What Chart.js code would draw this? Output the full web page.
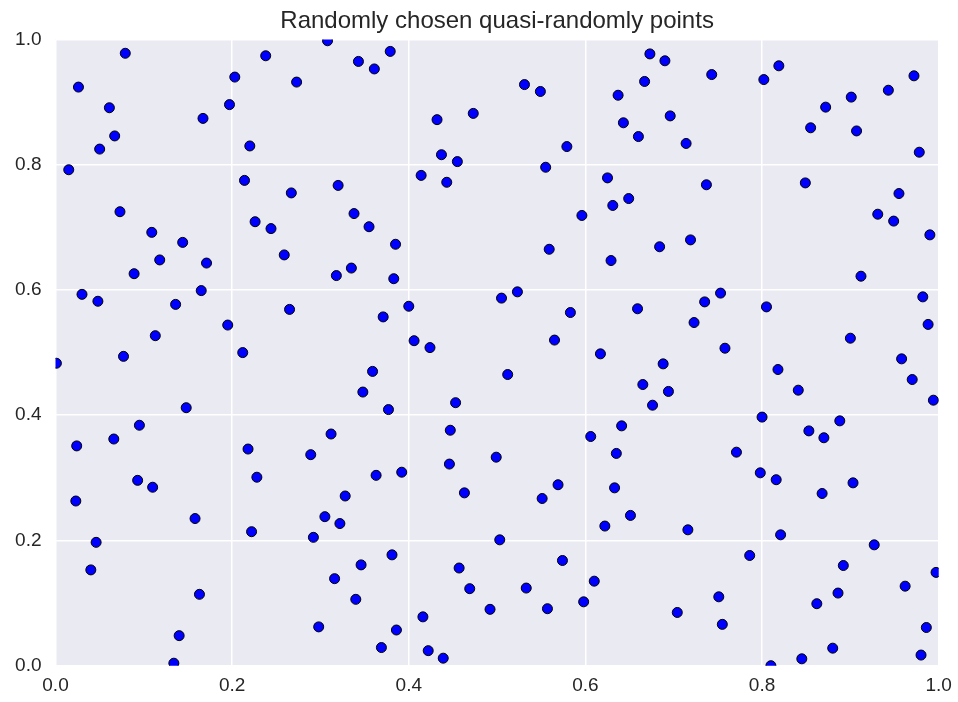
<!DOCTYPE html>
<html>
<head>
<meta charset="utf-8">
<script src="https://cdn.jsdelivr.net/npm/chart.js@4.4.1/dist/chart.umd.min.js"></script>
<style>
  html, body { margin: 0; padding: 0; background: #fff; }
  #chart { display: block; }
</style>
</head>
<body>
<canvas id="chart" width="958" height="702"></canvas>
<script>
// point positions
const xValues = [
  0.079, 0.026, 0.061, 0.067, 0.050, 0.015, 0.073, 0.109, 0.144, 0.167,
  0.197, 0.203, 0.238, 0.220, 0.214, 0.226, 0.244, 0.308, 0.273, 0.343,
  0.361, 0.379, 0.432, 0.473, 0.437, 0.455, 0.414, 0.443, 0.267, 0.320,
  0.338, 0.355, 0.385, 0.531, 0.549, 0.579, 0.555, 0.596, 0.559, 0.673,
  0.690, 0.743, 0.667, 0.637, 0.696, 0.643, 0.660, 0.714, 0.625, 0.737,
  0.649, 0.631, 0.684, 0.719, 0.819, 0.802, 0.972, 0.943, 0.901, 0.872,
  0.855, 0.907, 0.978, 0.849, 0.955, 0.931, 0.949, 0.990, 0.118, 0.171,
  0.089, 0.030, 0.048, 0.136, 0.165, 0.195, 0.113, 0.077, 0.001, 0.212,
  0.148, 0.095, 0.066, 0.024, 0.218, 0.259, 0.318, 0.335, 0.383, 0.265,
  0.371, 0.400, 0.505, 0.406, 0.424, 0.359, 0.348, 0.377, 0.453, 0.447,
  0.312, 0.289, 0.446, 0.499, 0.629, 0.523, 0.583, 0.565, 0.512, 0.659,
  0.735, 0.753, 0.723, 0.758, 0.617, 0.688, 0.665, 0.694, 0.676, 0.641,
  0.606, 0.635, 0.912, 0.805, 0.982, 0.988, 0.900, 0.818, 0.958, 0.970,
  0.841, 0.994, 0.800, 0.853, 0.870, 0.888, 0.771, 0.093, 0.110, 0.023,
  0.158, 0.228, 0.222, 0.046, 0.040, 0.163, 0.140, 0.134, 0.363, 0.392,
  0.328, 0.305, 0.322, 0.292, 0.463, 0.503, 0.381, 0.346, 0.316, 0.340,
  0.298, 0.386, 0.369, 0.457, 0.469, 0.492, 0.416, 0.422, 0.439, 0.569,
  0.551, 0.633, 0.651, 0.622, 0.716, 0.574, 0.610, 0.533, 0.557, 0.598,
  0.704, 0.751, 0.755, 0.798, 0.816, 0.868, 0.903, 0.821, 0.786, 0.927,
  0.892, 0.997, 0.962, 0.886, 0.862, 0.986, 0.880, 0.845, 0.810, 0.980
];
const yValues = [
  0.978, 0.924, 0.891, 0.846, 0.825, 0.792, 0.725, 0.692, 0.676, 0.874,
  0.896, 0.940, 0.974, 0.830, 0.775, 0.709, 0.698, 0.998, 0.932, 0.965,
  0.953, 0.981, 0.872, 0.882, 0.816, 0.805, 0.783, 0.772, 0.755, 0.767,
  0.722, 0.701, 0.673, 0.928, 0.917, 0.829, 0.796, 0.719, 0.665, 0.977,
  0.966, 0.944, 0.933, 0.911, 0.878, 0.867, 0.845, 0.834, 0.779, 0.768,
  0.746, 0.735, 0.669, 0.680, 0.958, 0.936, 0.942, 0.919, 0.908, 0.892,
  0.859, 0.854, 0.820, 0.771, 0.754, 0.721, 0.710, 0.688, 0.648, 0.643,
  0.626, 0.593, 0.582, 0.577, 0.599, 0.544, 0.527, 0.494, 0.483, 0.500,
  0.412, 0.384, 0.362, 0.351, 0.346, 0.656, 0.623, 0.635, 0.618, 0.569,
  0.557, 0.574, 0.587, 0.519, 0.508, 0.470, 0.437, 0.409, 0.420, 0.376,
  0.370, 0.337, 0.322, 0.333, 0.647, 0.597, 0.564, 0.520, 0.465, 0.570,
  0.581, 0.595, 0.548, 0.507, 0.498, 0.482, 0.449, 0.438, 0.416, 0.383,
  0.366, 0.339, 0.622, 0.573, 0.589, 0.545, 0.523, 0.473, 0.490, 0.457,
  0.440, 0.424, 0.397, 0.375, 0.364, 0.391, 0.341, 0.296, 0.285, 0.263,
  0.235, 0.301, 0.214, 0.197, 0.153, 0.114, 0.048, 0.004, 0.304, 0.309,
  0.271, 0.238, 0.227, 0.205, 0.276, 0.201, 0.177, 0.161, 0.139, 0.106,
  0.062, 0.057, 0.029, 0.156, 0.123, 0.090, 0.078, 0.024, 0.012, 0.289,
  0.267, 0.284, 0.240, 0.223, 0.217, 0.168, 0.135, 0.124, 0.091, 0.102,
  0.085, 0.110, 0.066, 0.308, 0.297, 0.275, 0.292, 0.209, 0.176, 0.193,
  0.160, 0.149, 0.127, 0.116, 0.099, 0.061, 0.028, 0.011, 0.000, 0.017
];
const xTickLabels = ["0.0", "0.2", "0.4", "0.6", "0.8", "1.0"];
const yTickLabels = ["0.0", "0.2", "0.4", "0.6", "0.8", "1.0"];
const chartTitle = "Randomly chosen quasi-randomly points";

const points = xValues.map((x, i) => ({ x: x, y: yValues[i] }));

// grey plot background like seaborn darkgrid
const plotBackground = {
    id: "plotBackground",
    beforeDraw(chart) {
        const a = chart.chartArea;
        const ctx = chart.ctx;
        ctx.save();
        ctx.fillStyle = "#EAEAF2";
        ctx.fillRect(a.left, a.top, a.right - a.left, a.bottom - a.top);
        ctx.restore();
    }
};

// center the title over the plot area, not the whole canvas
const titleOverPlot = {
    id: "titleOverPlot",
    afterLayout(chart) {
        const t = chart.titleBlock;
        if (!t) return;
        t.left = chart.chartArea.left;
        t.right = chart.chartArea.right;
        t.width = t.right - t.left;
    }
};

const textColor = "#262626";
const font = "'Liberation Sans', Arial, sans-serif";

new Chart(document.getElementById("chart"), {
    type: "scatter",
    data: {
        datasets: [{
            data: points,
            backgroundColor: "#0000FF",
            borderColor: "#000000",
            borderWidth: 1,
            pointRadius: 5,
            pointHoverRadius: 5,
            clip: 0
        }]
    },
    options: {
        responsive: false,
        animation: false,
        events: [],
        layout: { padding: { left: 0, right: 19.3, top: 0, bottom: 0 } },
        plugins: {
            legend: { display: false },
            tooltip: { enabled: false },
            title: {
                display: true,
                text: chartTitle,
                color: textColor,
                font: { family: font, size: 24, weight: "normal" },
                padding: { top: 7, bottom: 3.7 }
            }
        },
        scales: {
            x: {
                type: "linear",
                min: 0,
                max: 1,
                border: { display: false },
                grid: { color: "#FFFFFF", lineWidth: 1.5, drawTicks: false },
                ticks: {
                    stepSize: 0.2,
                    padding: 9,
                    color: textColor,
                    font: { family: font, size: 19 },
                    maxRotation: 0,
                    callback: (v, i) => xTickLabels[i]
                },
                afterFit: scale => {
                    scale.height = 36.3;
                    scale.paddingLeft = 0;
                    scale.paddingRight = 0;
                }
            },
            y: {
                type: "linear",
                min: 0,
                max: 1,
                border: { display: false },
                grid: { color: "#FFFFFF", lineWidth: 1.5, drawTicks: false },
                ticks: {
                    stepSize: 0.2,
                    padding: 14,
                    color: textColor,
                    font: { family: font, size: 19 },
                    callback: (v, i) => yTickLabels[i]
                },
                afterFit: scale => { scale.width = 55.5; }
            }
        }
    },
    plugins: [plotBackground, titleOverPlot]
});
</script>
</body>
</html>
